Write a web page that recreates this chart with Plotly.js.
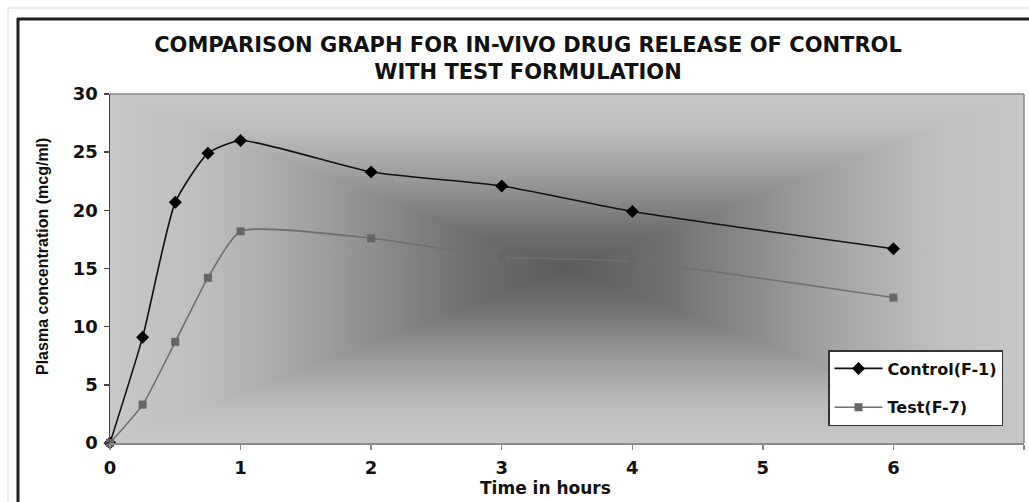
<!DOCTYPE html>
<html>
<head>
<meta charset="utf-8">
<script src="https://cdn.plot.ly/plotly-3.0.1.min.js"></script>
<style>html,body{margin:0;padding:0;background:#fff;overflow:hidden;}#chart{width:1029px;height:502px;}</style>
</head>
<body>
<div id="chart"></div>
<script>
// ---- data ----
const timeHours = [0, 0.25, 0.5, 0.75, 1, 2, 3, 4, 6];
const controlF1 = [0, 9.1, 20.7, 24.9, 26.0, 23.3, 22.1, 19.9, 16.7];
const testF7    = [0, 3.3, 8.7, 14.2, 18.2, 17.6, 16.0, 15.6, 12.5];
const seriesNames = ['Control(F-1)', 'Test(F-7)'];
const xTicks = [0, 1, 2, 3, 4, 5, 6, 7];
const yTicks = [0, 5, 10, 15, 20, 25, 30];
const chartTitle = 'COMPARISON GRAPH FOR IN-VIVO DRUG RELEASE OF CONTROL<br>WITH TEST FORMULATION';
const xTitle = 'Time in hours';
const yTitle = 'Plasma concentration (mcg/ml)';

// ---- layout geometry ----
const W = 1029, H = 502;
const M = {l: 110, r: 5, t: 94, b: 59};
const PW = W - M.l - M.r, PH = H - M.t - M.b;
const px2x = p => (p - M.l) / PW;
const px2y = p => (H - M.b - p) / PH;

// background "from centre" rectangular gradient for the plot area
function bgSVG() {
  const w = PW, h = PH, cx = w / 2, cy = h / 2;
  const stops = `
    <stop offset="0" stop-color="#c7c7c7"/>
    <stop offset="0.2" stop-color="#bebebe"/>
    <stop offset="0.4" stop-color="#a6a6a6"/>
    <stop offset="0.6" stop-color="#8a8a8a"/>
    <stop offset="0.8" stop-color="#6e6e6e"/>
    <stop offset="1" stop-color="#5c5c5c"/>`;
  const svg = `<svg xmlns="http://www.w3.org/2000/svg" width="${w}" height="${h}" viewBox="0 0 ${w} ${h}" preserveAspectRatio="none">
  <defs>
   <linearGradient id="gl" gradientUnits="userSpaceOnUse" x1="0" y1="0" x2="${cx}" y2="0">${stops}</linearGradient>
   <linearGradient id="gr" gradientUnits="userSpaceOnUse" x1="${w}" y1="0" x2="${cx}" y2="0">${stops}</linearGradient>
   <linearGradient id="gt" gradientUnits="userSpaceOnUse" x1="0" y1="0" x2="0" y2="${cy}">${stops}</linearGradient>
   <linearGradient id="gb" gradientUnits="userSpaceOnUse" x1="0" y1="${h}" x2="0" y2="${cy}">${stops}</linearGradient>
  </defs>
  <rect x="0" y="0" width="${cx + 1}" height="${h}" fill="url(#gl)"/>
  <rect x="${cx - 1}" y="0" width="${cx + 1}" height="${h}" fill="url(#gr)"/>
  <polygon points="0,0 ${w},0 ${cx},${cy}" fill="url(#gt)"/>
  <polygon points="0,${h} ${w},${h} ${cx},${cy}" fill="url(#gb)"/>
 </svg>`;
  return 'data:image/svg+xml;charset=utf-8,' + encodeURIComponent(svg);
}

const traces = [
  {
    x: timeHours, y: controlF1, name: seriesNames[0], type: 'scatter', mode: 'lines+markers',
    line: {color: '#111111', width: 1.6, shape: 'spline', smoothing: 0.55},
    marker: {symbol: 'diamond', size: 10, color: '#000000'},
    cliponaxis: false, legendgroup: 'a'
  },
  {
    x: timeHours, y: testF7, name: seriesNames[1], type: 'scatter', mode: 'lines+markers',
    line: {color: '#6f6f6f', width: 1.6, shape: 'spline', smoothing: 0.55},
    marker: {symbol: 'square', size: 8, color: '#666666'},
    cliponaxis: false, legendgroup: 'b'
  }
];

const tickFont = {family: 'DejaVu Sans', size: 18, color: '#111', weight: 'bold'};

const layout = {
  width: W, height: H,
  margin: M,
  paper_bgcolor: '#ffffff',
  plot_bgcolor: 'rgba(0,0,0,0)',
  showlegend: true,
  title: {
    text: chartTitle,
    font: {family: 'DejaVu Sans', size: 21, color: '#111', weight: 'bold'},
    x: 528 / W, xanchor: 'center',
    y: 1 - 52 / H, yanchor: 'top'
  },
  xaxis: {
    range: [0, 7], tickvals: xTicks, ticktext: xTicks.map(String),
    showgrid: false, zeroline: false, showline: true, linecolor: '#8a8a8a', linewidth: 1.5,
    ticks: 'outside', ticklen: 5, tickcolor: '#8a8a8a', tickwidth: 1.5, ticklabelstandoff: 3,
    tickfont: tickFont, fixedrange: true
  },
  yaxis: {
    range: [0, 30], tickvals: yTicks, ticktext: yTicks.map(String),
    showgrid: false, zeroline: false, showline: true, linecolor: '#444', linewidth: 1.5,
    ticks: 'outside', ticklen: 5, tickcolor: '#444', tickwidth: 1.5, ticklabelstandoff: 2,
    tickfont: tickFont, fixedrange: true
  },
  legend: {
    x: px2x(828), y: px2y(350), xanchor: 'left', yanchor: 'top',
    bgcolor: '#ffffff', bordercolor: '#333333', borderwidth: 1.5,
    font: {family: 'DejaVu Sans', size: 16, color: '#111', weight: 'bold'},
    traceorder: 'grouped', tracegroupgap: 15, itemwidth: 48
  },
  images: [{
    source: bgSVG(), xref: 'paper', yref: 'paper', x: 0, y: 1, sizex: 1, sizey: 1,
    xanchor: 'left', yanchor: 'top', sizing: 'stretch', layer: 'below'
  }],
  annotations: [
    {text: xTitle, xref: 'paper', yref: 'paper', x: px2x(545), y: px2y(488), xanchor: 'center', yanchor: 'middle',
     showarrow: false, font: {family: 'DejaVu Sans', size: 17, color: '#111', weight: 'bold'}},
    {text: yTitle, xref: 'paper', yref: 'paper', x: px2x(42), y: px2y(257), xanchor: 'center', yanchor: 'middle',
     textangle: -90, showarrow: false, font: {family: 'Liberation Sans', size: 16, color: '#111', weight: 'bold'}}
  ],
  shapes: [
    // light outer page border
    {type: 'line', xref: 'paper', yref: 'paper', x0: px2x(8), x1: px2x(8), y0: px2y(8), y1: px2y(520), line: {color: '#dcdcdc', width: 1}},
    {type: 'line', xref: 'paper', yref: 'paper', x0: px2x(8), x1: px2x(1060), y0: px2y(8), y1: px2y(8), line: {color: '#dcdcdc', width: 1}},
    // dark chart frame (top and left visible)
    {type: 'line', xref: 'paper', yref: 'paper', x0: px2x(17), x1: px2x(1060), y0: px2y(19), y1: px2y(19), line: {color: '#1e1e1e', width: 3}},
    {type: 'line', xref: 'paper', yref: 'paper', x0: px2x(18), x1: px2x(18), y0: px2y(18), y1: px2y(520), line: {color: '#1e1e1e', width: 3}},
    // plot-area border top & right
    {type: 'line', xref: 'paper', yref: 'paper', x0: 0, x1: 1, y0: 1, y1: 1, line: {color: '#8a8a8a', width: 1.5}},
    {type: 'line', xref: 'paper', yref: 'paper', x0: 1, x1: 1, y0: 0, y1: 1, line: {color: '#8a8a8a', width: 1.5}}
  ]
};

Plotly.newPlot('chart', traces, layout, {displayModeBar: false, staticPlot: true});
</script>
</body>
</html>
